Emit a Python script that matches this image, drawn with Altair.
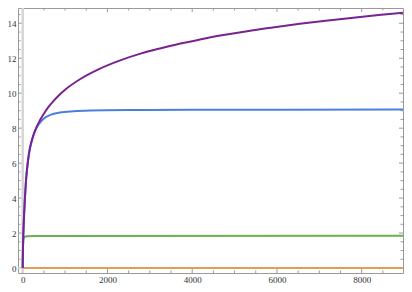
import altair as alt
import pandas as pd

# ---- data ----
purple_x = [0, 5, 15, 30, 50, 75, 100, 150, 220, 290, 400, 500, 600, 745, 850, 1000, 1350, 1800,
            2300, 2800, 3240, 3700, 4180, 4700, 5300, 5900, 6540, 7150, 7800, 8400, 8975]
purple_y = [0, 0.9, 1.9, 2.9, 3.9, 4.9, 5.6, 6.6, 7.35, 7.85, 8.42, 8.83, 9.19, 9.6, 9.87, 10.2, 10.8, 11.38,
            11.88, 12.28, 12.56, 12.83, 13.07, 13.31, 13.55, 13.76, 13.97, 14.15, 14.32, 14.47, 14.61]

blue_x = [0, 5, 15, 30, 50, 75, 100, 150, 220, 290, 380, 486, 650, 880, 1200, 1587, 2500, 4000, 6000, 8975]
blue_y = [0, 0.9, 1.9, 2.9, 3.9, 4.9, 5.6, 6.55, 7.3, 7.83, 8.22, 8.53, 8.76, 8.9, 8.97, 9.01, 9.04, 9.05, 9.06, 9.07]

green_x = [0, 5, 12, 25, 50, 100, 300, 8975]
green_y = [0, 1.0, 1.6, 1.72, 1.78, 1.82, 1.83, 1.84]

orange_x = [0, 8975]
orange_y = [0, 0]

x_major = [0, 2000, 4000, 6000, 8000]
x_minor = [500, 1000, 1500, 2500, 3000, 3500, 4500, 5000, 5500, 6500, 7000, 7500, 8500]
y_major = [0, 2, 4, 6, 8, 10, 12, 14]
y_minor = [0.5, 1, 1.5, 2.5, 3, 3.5, 4.5, 5, 5.5, 6.5, 7, 7.5, 8.5, 9, 9.5,
           10.5, 11, 11.5, 12.5, 13, 13.5, 14.5]

# ---- layout / style ----
W, H = 385, 265
XDOM = [-111, 8975]
YDOM = [-0.286, 14.875]
FRAME = "#9a9a9a"
LABEL = "#333333"

xscale = alt.Scale(domain=XDOM, nice=False, zero=False)
yscale = alt.Scale(domain=YDOM, nice=False, zero=False)

xaxis = alt.Axis(values=x_major, title=None, tickSize=0, domain=False, grid=False,
                 labelFont="Liberation Serif", labelFontSize=9, labelColor=LABEL,
                 labelPadding=2, format="d", labelFlush=False)
yaxis = alt.Axis(values=y_major, title=None, tickSize=0, domain=False, grid=False,
                 labelFont="Liberation Serif", labelFontSize=9, labelColor=LABEL,
                 labelPadding=2, format="d")


def series(xs, ys, color):
    d = pd.DataFrame({"x": xs, "y": ys})
    return alt.Chart(d).mark_line(strokeWidth=2, color=color, clip=True,
                                  interpolate="monotone").encode(
        x=alt.X("x:Q", scale=xscale, axis=xaxis),
        y=alt.Y("y:Q", scale=yscale, axis=yaxis),
    )


def xticks(vals, length):
    d = pd.DataFrame({"x": vals})
    base = alt.Chart(d).mark_rule(color=FRAME, strokeWidth=1)
    bottom = base.encode(x=alt.X("x:Q", scale=xscale, axis=xaxis),
                         y=alt.value(H), y2=alt.value(H - length))
    top = base.encode(x=alt.X("x:Q", scale=xscale, axis=xaxis),
                      y=alt.value(0), y2=alt.value(length))
    return [bottom, top]


def yticks(vals, length):
    d = pd.DataFrame({"y": vals})
    base = alt.Chart(d).mark_rule(color=FRAME, strokeWidth=1)
    left = base.encode(y=alt.Y("y:Q", scale=yscale, axis=yaxis),
                       x=alt.value(0), x2=alt.value(length))
    right = base.encode(y=alt.Y("y:Q", scale=yscale, axis=yaxis),
                        x=alt.value(W), x2=alt.value(W - length))
    return [left, right]


zero_v = alt.Chart(pd.DataFrame({"x": [0]})).mark_rule(color="#d6d6d6", strokeWidth=2.5).encode(
    x=alt.X("x:Q", scale=xscale, axis=xaxis))
zero_h = alt.Chart(pd.DataFrame({"y": [0]})).mark_rule(color="#d6d6d6", strokeWidth=1.5).encode(
    y=alt.Y("y:Q", scale=yscale, axis=yaxis))

layers = (xticks(x_major, 4) + xticks(x_minor, 2.5) + yticks(y_major, 4) + yticks(y_minor, 2.5)
          + [zero_v, zero_h,
             series(orange_x, orange_y, "#e69c58"),
             series(green_x, green_y, "#6cb04e"),
             series(blue_x, blue_y, "#4a80dc"),
             series(purple_x, purple_y, "#7a2390")])

chart = alt.layer(*layers).properties(
    width=W, height=H,
    autosize=alt.AutoSizeParams(type="none"),
    padding={"left": 10, "top": 0, "right": 1, "bottom": 11},
).configure_view(stroke=FRAME, strokeWidth=1)

chart.save("out.html", embed_options={"renderer": "svg", "actions": False})
